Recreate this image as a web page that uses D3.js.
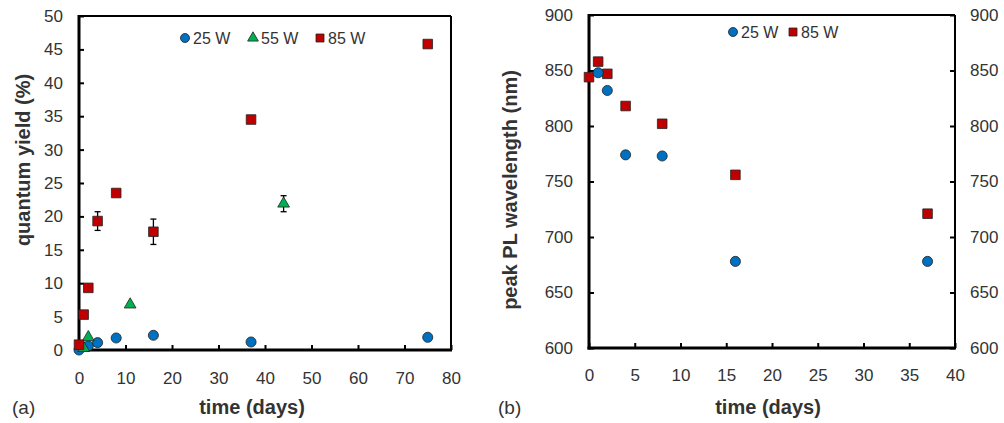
<!DOCTYPE html>
<html>
<head>
<meta charset="utf-8">
<script src="https://cdn.jsdelivr.net/npm/d3@7"></script>
<style>
  body { margin: 0; background: #fff; }
  svg text { font-family: "Liberation Sans", Arial, sans-serif; fill: #333; }
</style>
</head>
<body>
<div id="chart"></div>
<script>
// panel (a) - quantum yield vs time
const daysA25 = [0, 2, 4, 8, 16, 37, 75];
const qy25 = [0, 0.6, 1.1, 1.8, 2.2, 1.2, 1.9];
const daysA55 = [1, 2, 11, 44];
const qy55 = [0.3, 1.9, 6.8, 21.9];
const err55 = [0, 0, 0, 1.2];
const daysA85 = [0, 1, 2, 4, 8, 16, 37, 75];
const qy85 = [0.8, 5.3, 9.3, 19.3, 23.5, 17.7, 34.5, 45.8];
const err85 = [0, 0, 0, 1.4, 0, 1.9, 0, 0];

// panel (b) - peak PL wavelength vs time
const daysB25 = [1, 2, 4, 8, 16, 37];
const pl25 = [848, 832, 774, 773, 678, 678];
const daysB85 = [0, 1, 2, 4, 8, 16, 37];
const pl85 = [844, 858, 847, 818, 802, 756, 721];

const ticksA_x = [0, 10, 20, 30, 40, 50, 60, 70, 80];
const ticksA_y = [0, 5, 10, 15, 20, 25, 30, 35, 40, 45, 50];
const ticksB_x = [0, 5, 10, 15, 20, 25, 30, 35, 40];
const ticksB_y = [600, 650, 700, 750, 800, 850, 900];

const BLUE = '#0070C0', GREEN = '#00B050', RED = '#C00000';

const svg = d3.select('#chart').append('svg')
    .attr('width', 1004).attr('height', 423);

function symbolPath(type, size) {
    return d3.symbol().type(type).size(size)();
}

function frame(g, w, h) {
    // top and right thinner, left and bottom thicker
    g.append('line').attr('x1', 0).attr('x2', w).attr('y1', 0).attr('y2', 0)
        .attr('stroke', '#000').attr('stroke-width', 2);
    g.append('line').attr('x1', w).attr('x2', w).attr('y1', 0).attr('y2', h)
        .attr('stroke', '#000').attr('stroke-width', 2);
    g.append('line').attr('x1', 0).attr('x2', 0).attr('y1', -1).attr('y2', h + 1.5)
        .attr('stroke', '#000').attr('stroke-width', 3);
    g.append('line').attr('x1', -1.5).attr('x2', w + 1).attr('y1', h).attr('y2', h)
        .attr('stroke', '#000').attr('stroke-width', 3);
}

function styleAxis(g) {
    g.select('.domain').remove();
    g.selectAll('.tick line').attr('stroke', '#000').attr('stroke-width', 2);
    g.selectAll('.tick text').style('font-size', '17px').attr('fill', '#333');
}

function drawSeries(g, x, y, xs, ys, errs, type, size, color) {
    let pts = xs.map(function(d, i) { return {x: d, y: ys[i], e: errs ? errs[i] : 0}; });
    let eb = g.append('g');
    pts.filter(function(d) { return d.e > 0; }).forEach(function(d) {
        let cx = x(d.x);
        eb.append('line').attr('x1', cx).attr('x2', cx)
            .attr('y1', y(d.y + d.e)).attr('y2', y(d.y - d.e))
            .attr('stroke', '#000').attr('stroke-width', 1.3);
        [d.y + d.e, d.y - d.e].forEach(function(v) {
            eb.append('line').attr('x1', cx - 3).attr('x2', cx + 3)
                .attr('y1', y(v)).attr('y2', y(v))
                .attr('stroke', '#000').attr('stroke-width', 1.3);
        });
    });
    g.append('g').selectAll('path')
        .data(pts)
        .enter()
        .append('path')
        .attr('d', symbolPath(type, size))
        .attr('transform', function(d) { return 'translate(' + x(d.x) + ',' + y(d.y) + ')'; })
        .attr('fill', color)
        .attr('stroke', '#222')
        .attr('stroke-width', 0.8);
}

function legendItem(g, cx, cy, type, size, color, label) {
    g.append('path').attr('d', symbolPath(type, size))
        .attr('transform', 'translate(' + cx + ',' + cy + ')')
        .attr('fill', color).attr('stroke', '#222').attr('stroke-width', 0.8);
    g.append('text').attr('x', cx + 8).attr('y', cy + 6)
        .style('font-size', '16px').text(label);
}

/* ---------- panel (a) ---------- */
(function() {
    let m = {left: 79, top: 16}, w = 372, h = 334;
    let g = svg.append('g').attr('transform', 'translate(' + m.left + ',' + m.top + ')');

    let x = d3.scaleLinear().domain([0, 80]).range([0, w]);
    let y = d3.scaleLinear().domain([0, 50]).range([h, 0]);

    g.append('g').attr('transform', 'translate(0,' + h + ')')
        .call(d3.axisBottom(x).tickValues(ticksA_x).tickSize(-5).tickPadding(22))
        .call(styleAxis);
    g.append('g')
        .call(d3.axisLeft(y).tickValues(ticksA_y).tickSize(-5).tickPadding(16))
        .call(styleAxis);
    frame(g, w, h);

    drawSeries(g, x, y, daysA25, qy25, null, d3.symbolCircle, 80, BLUE);
    drawSeries(g, x, y, daysA55, qy55, err55, d3.symbolTriangle, 60, GREEN);
    drawSeries(g, x, y, daysA85, qy85, err85, d3.symbolSquare, 92, RED);

    legendItem(svg, 185, 38, d3.symbolCircle, 64, BLUE, '25 W');
    legendItem(svg, 253, 38, d3.symbolTriangle, 50, GREEN, '55 W');
    legendItem(svg, 320, 38, d3.symbolSquare, 64, RED, '85 W');

    svg.append('text').attr('transform', 'translate(30,160) rotate(-90)')
        .attr('text-anchor', 'middle').style('font-size', '20px').style('font-weight', 'bold')
        .text('quantum yield (%)');
    svg.append('text').attr('x', 252).attr('y', 414)
        .attr('text-anchor', 'middle').style('font-size', '20px').style('font-weight', 'bold')
        .text('time (days)');
    svg.append('text').attr('x', 12).attr('y', 414)
        .style('font-size', '19px').text('(a)');
})();

/* ---------- panel (b) ---------- */
(function() {
    let m = {left: 589, top: 15}, w = 366, h = 333;
    let g = svg.append('g').attr('transform', 'translate(' + m.left + ',' + m.top + ')');

    let x = d3.scaleLinear().domain([0, 40]).range([0, w]);
    let y = d3.scaleLinear().domain([600, 900]).range([h, 0]);

    g.append('g').attr('transform', 'translate(0,' + h + ')')
        .call(d3.axisBottom(x).tickValues(ticksB_x).tickSize(-5).tickPadding(21))
        .call(styleAxis);
    g.append('g')
        .call(d3.axisLeft(y).tickValues(ticksB_y).tickSize(-5).tickPadding(16))
        .call(styleAxis);
    g.append('g').attr('transform', 'translate(' + w + ',0)')
        .call(d3.axisRight(y).tickValues(ticksB_y).tickSize(-5).tickPadding(15))
        .call(styleAxis);
    frame(g, w, h);

    drawSeries(g, x, y, daysB85, pl85, null, d3.symbolSquare, 92, RED);
    drawSeries(g, x, y, daysB25, pl25, null, d3.symbolCircle, 80, BLUE);

    legendItem(svg, 733, 32, d3.symbolCircle, 64, BLUE, '25 W');
    legendItem(svg, 793, 32, d3.symbolSquare, 64, RED, '85 W');

    svg.append('text').attr('transform', 'translate(517,190) rotate(-90)')
        .attr('text-anchor', 'middle').style('font-size', '20px').style('font-weight', 'bold')
        .text('peak PL wavelength (nm)');
    svg.append('text').attr('x', 768).attr('y', 414)
        .attr('text-anchor', 'middle').style('font-size', '20px').style('font-weight', 'bold')
        .text('time (days)');
    svg.append('text').attr('x', 498).attr('y', 414)
        .style('font-size', '19px').text('(b)');
})();
</script>
</body>
</html>
